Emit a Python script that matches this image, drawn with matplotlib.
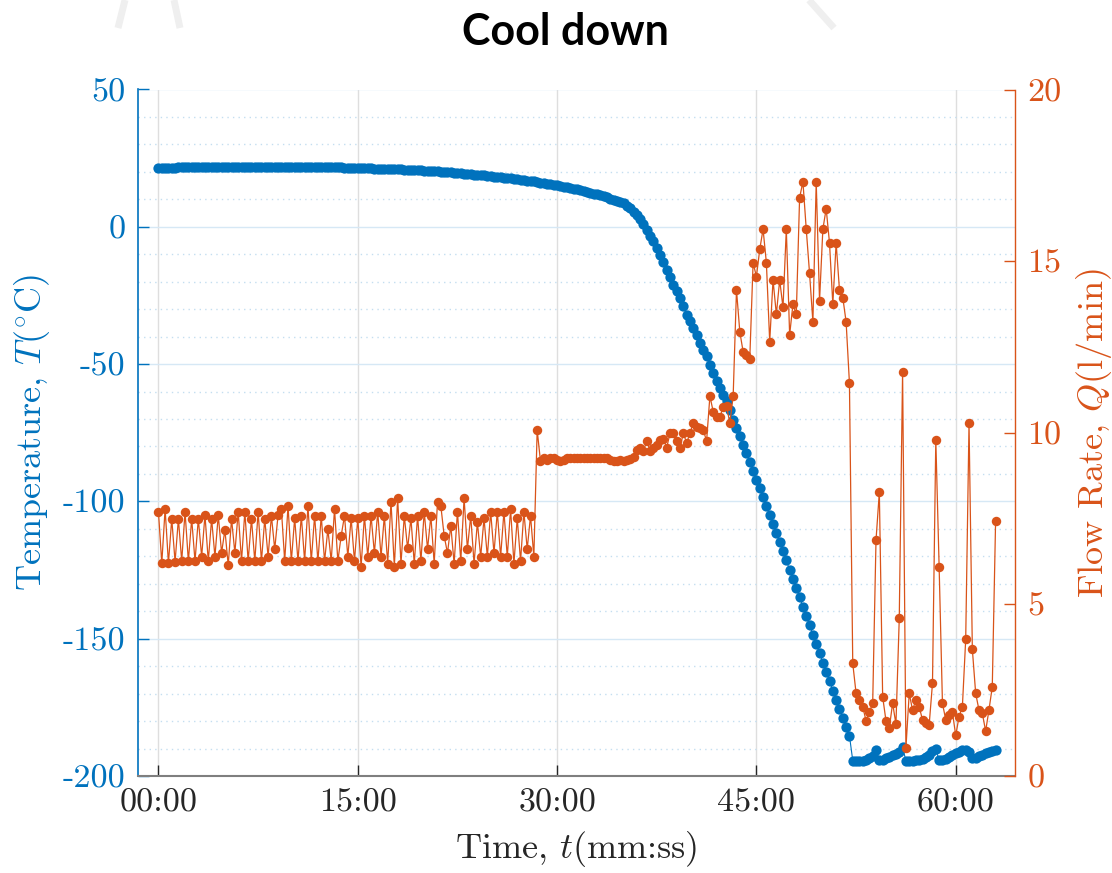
import numpy as np
import matplotlib
matplotlib.use("Agg")
import matplotlib.pyplot as plt
from matplotlib.ticker import MultipleLocator, FixedLocator
from matplotlib.lines import Line2D

plt.rcParams['font.family'] = 'cmr10'
plt.rcParams['mathtext.fontset'] = 'cm'
plt.rcParams['axes.unicode_minus'] = False
plt.rcParams['axes.formatter.use_mathtext'] = True

# ---------------- data ----------------
sample_interval_min = 0.25  # one sample every 15 s

temperature_C = [
    21.3, 21.4, 21.4, 21.5, 21.5, 21.5, 21.6, 21.6, 21.6, 21.6,
    21.7, 21.7, 21.7, 21.7, 21.7, 21.8, 21.8, 21.8, 21.8, 21.8,
    21.8, 21.8, 21.9, 21.9, 21.9, 21.9, 21.9, 21.9, 21.9, 21.9,
    21.9, 21.9, 21.9, 21.9, 21.9, 21.9, 21.9, 21.9, 21.9, 21.9,
    21.9, 21.9, 21.9, 21.8, 21.8, 21.8, 21.8, 21.8, 21.8, 21.7,
    21.7, 21.7, 21.7, 21.6, 21.6, 21.6, 21.5, 21.5, 21.4, 21.4,
    21.4, 21.4, 21.3, 21.3, 21.3, 21.2, 21.2, 21.2, 21.1, 21.1,
    21.0, 21.0, 20.9, 20.9, 20.8, 20.8, 20.7, 20.7, 20.6, 20.6,
    20.5, 20.4, 20.4, 20.3, 20.2, 20.1, 20.0, 19.9, 19.8, 19.7,
    19.6, 19.5, 19.4, 19.3, 19.2, 19.0, 18.9, 18.8, 18.7, 18.5,
    18.4, 18.3, 18.1, 18.0, 17.9, 17.7, 17.6, 17.4, 17.3, 17.1,
    17.0, 16.8, 16.6, 16.5, 16.3, 16.1, 15.9, 15.7, 15.5, 15.3,
    15.1, 14.9, 14.6, 14.4, 14.1, 13.9, 13.6, 13.3, 13.0, 12.7,
    12.4, 12.1, 11.8, 11.4, 11.1, 10.7, 10.3, 9.9, 9.5, 9.2,
    8.5, 7.7, 6.7, 5.5, 4.3, 2.9, 1.0, -1.1, -3.2, -5.3,
    -7.8, -10.2, -12.9, -15.6, -18.3, -21.1, -23.5, -26.0, -29.0, -32.0,
    -34.4, -36.8, -39.5, -42.3, -44.8, -47.2, -50.2, -53.2, -56.0, -58.7,
    -61.1, -63.5, -66.8, -70.2, -73.2, -76.3, -79.4, -82.5, -85.7, -88.9,
    -92.1, -95.3, -98.5, -101.8, -105.0, -108.3, -111.6, -114.9, -118.2, -121.5,
    -124.8, -128.1, -131.5, -134.9, -138.3, -141.7, -145.1, -148.5, -151.9, -155.3,
    -158.7, -162.1, -165.5, -168.9, -172.2, -175.5, -178.8, -182.0, -185.3, -194.4,
    -194.5, -194.5, -194.4, -194.2, -193.6, -192.6, -190.4, -194.2, -194.0, -193.6,
    -193.1, -192.5, -191.9, -191.2, -189.6, -194.4, -194.4, -194.4, -194.3, -194.1,
    -193.8, -193.2, -192.2, -191.0, -190.2, -194.3, -194.2, -193.8, -193.2, -192.5,
    -191.8, -191.1, -190.6, -190.4, -191.4, -193.6, -193.4, -192.8, -192.2, -191.7,
    -191.2, -190.9, -190.6,
]

flow_lpm = [
    7.69, 6.20, 7.78, 6.20, 7.49, 6.24, 7.49, 6.26, 7.70, 6.26,
    7.49, 6.26, 7.49, 6.39, 7.60, 6.26, 7.49, 6.39, 7.60, 6.50,
    7.17, 6.14, 7.49, 6.50, 7.70, 6.26, 7.70, 6.26, 7.49, 6.26,
    7.70, 6.26, 7.49, 6.39, 7.58, 6.61, 7.60, 7.78, 6.26, 7.87,
    6.26, 7.51, 6.26, 7.58, 6.26, 7.87, 6.26, 7.58, 6.26, 7.58,
    6.26, 7.19, 6.26, 7.78, 6.26, 7.00, 7.58, 6.39, 7.51, 6.26,
    7.51, 6.10, 7.58, 6.39, 7.58, 6.49, 7.70, 6.39, 7.58, 6.19,
    7.99, 6.10, 8.09, 6.19, 7.58, 6.63, 7.51, 6.19, 7.58, 6.26,
    7.70, 6.61, 7.58, 6.19, 7.99, 7.87, 7.00, 6.49, 7.29, 6.19,
    7.70, 6.26, 8.09, 6.61, 7.58, 6.19, 7.39, 6.39, 7.51, 6.39,
    7.70, 6.49, 7.70, 6.39, 7.70, 6.39, 7.78, 6.19, 7.51, 6.26,
    7.70, 6.61, 7.58, 6.39, 10.08, 9.17, 9.25, 9.20, 9.25, 9.25,
    9.20, 9.17, 9.20, 9.25, 9.25, 9.25, 9.25, 9.25, 9.25, 9.25,
    9.25, 9.25, 9.25, 9.25, 9.25, 9.25, 9.20, 9.17, 9.17, 9.20,
    9.17, 9.20, 9.23, 9.28, 9.50, 9.55, 9.47, 9.76, 9.47, 9.55,
    9.65, 9.79, 9.82, 9.57, 9.99, 9.99, 9.76, 9.55, 9.99, 9.70,
    9.99, 10.28, 10.18, 10.13, 10.08, 9.76, 11.07, 10.61, 10.47, 10.45,
    10.76, 10.78, 10.28, 11.07, 14.16, 12.94, 12.36, 12.26, 12.15, 14.95,
    14.55, 15.34, 15.93, 14.95, 12.65, 14.45, 13.45, 14.45, 13.65, 15.93,
    12.85, 13.75, 13.45, 16.85, 17.31, 15.93, 14.64, 13.23, 17.31, 13.84,
    15.93, 16.53, 15.53, 13.75, 15.53, 14.16, 13.94, 13.23, 11.45, 3.28,
    2.41, 2.21, 2.02, 1.61, 1.86, 2.12, 6.87, 8.27, 2.31, 1.61,
    1.40, 2.12, 1.51, 4.59, 11.77, 0.81, 2.41, 1.92, 2.21, 2.02,
    1.63, 1.53, 1.49, 2.70, 9.80, 6.10, 2.12, 1.63, 1.77, 1.86,
    1.18, 1.73, 2.02, 3.98, 10.28, 3.69, 2.41, 1.92, 1.83, 1.31,
    1.92, 2.60, 7.43,
]

x_ticks_min = [0, 15, 30, 45, 60]
x_tick_labels = ["00:00", "15:00", "30:00", "45:00", "60:00"]
temp_ticks = [50, 0, -50, -100, -150, -200]
temp_tick_labels = ["50", "0", "-50", "-100", "-150", "-200"]
flow_ticks = [0, 5, 10, 15, 20]
flow_tick_labels = ["0", "5", "10", "15", "20"]

n = min(len(temperature_C), len(flow_lpm))
time_min = np.arange(n) * sample_interval_min

# ---------------- styles ----------------
BLUE = '#0072BD'
ORANGE = '#D95319'
DARK = '#262626'

fig = plt.figure(figsize=(11.12, 8.73), dpi=100)

# faint watermark strokes at the top edge
for (x0, y0, x1, y1) in [(118, 28, 125, 0), (180, 28, 174, 0), (834, 28, 809, 0)]:
    fig.add_artist(Line2D([x0 / 1112, x1 / 1112], [1 - y0 / 873, 1 - y1 / 873],
                          transform=fig.transFigure, color='#efefef', lw=5,
                          solid_capstyle='butt'))

ax = fig.add_axes([138 / 1112, 1 - 776 / 873, (1015 - 138) / 1112, (776 - 89.5) / 873])
ax2 = ax.twinx()

ax.plot(time_min, temperature_C[:n], '-o', color=BLUE, ms=7.4, lw=0.8, mew=0, zorder=3)
ax2.plot(time_min, flow_lpm[:n], '-o', color=ORANGE, ms=6.8, lw=0.9, mew=0, zorder=3)

ax.set_xlim(-1.54, 64.46)
ax.set_ylim(-200, 50)
ax2.set_ylim(0, 20)

ax.xaxis.set_major_locator(FixedLocator(x_ticks_min))
ax.set_xticklabels(x_tick_labels)
ax.yaxis.set_major_locator(FixedLocator(temp_ticks))
ax.set_yticklabels(temp_tick_labels)
ax.yaxis.set_minor_locator(MultipleLocator(10))
ax2.yaxis.set_major_locator(FixedLocator(flow_ticks))
ax2.set_yticklabels(flow_tick_labels)

ax.set_axisbelow(True)
ax.yaxis.grid(True, which='major', color='#d6e8f5', lw=1.0)
ax.yaxis.grid(True, which='minor', color='#c4def0', lw=1.0, ls=(0, (1, 3)))
ax.xaxis.grid(True, which='major', color='#dedede', lw=1.0)

for s in ['top', 'right']:
    ax.spines[s].set_visible(False)
for s in ['top', 'left', 'bottom']:
    ax2.spines[s].set_visible(False)
ax.spines['left'].set_color(BLUE)
ax.spines['left'].set_linewidth(1.2)
ax.spines['bottom'].set_color('#7f7f7f')
ax.spines['bottom'].set_linewidth(1.5)
ax2.spines['right'].set_color(ORANGE)
ax2.spines['right'].set_linewidth(1.0)

ax.tick_params(axis='y', which='major', direction='in', colors=BLUE, length=8, width=1,
               labelsize=24.5, pad=9)
ax.tick_params(axis='y', which='minor', length=0)
ax.tick_params(axis='x', which='major', direction='in', color=DARK, labelcolor=DARK,
               length=8, width=1, labelsize=24.5, pad=9)
ax2.tick_params(axis='y', direction='in', colors=ORANGE, length=8, width=1,
                labelsize=24.5, pad=9)

ax.set_ylabel(r'Temperature, $T(^{\circ}$C)', color=BLUE, fontsize=26, labelpad=8)
ax2.set_ylabel(r'Flow Rate, $Q$(l/min)', color=ORANGE, fontsize=26, labelpad=9)
ax.set_xlabel(r'Time, $t$(mm:ss)', color=DARK, fontsize=26, labelpad=8)

fig.text(565 / 1112, 1 - 45 / 873, 'Cool down', ha='center', va='baseline',
         fontsize=31, fontweight='bold', family='Lato', color='black')

fig.savefig('out.png', dpi=100)
